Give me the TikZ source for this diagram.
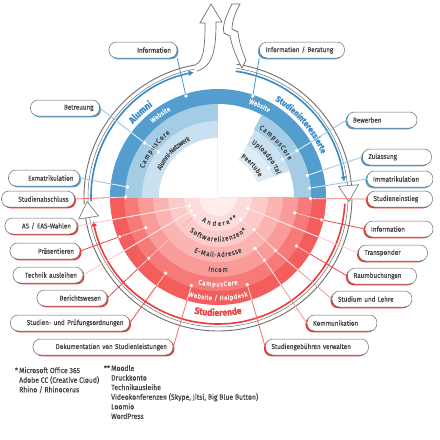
\documentclass[tikz,border=0pt]{standalone}
\usepackage{fontspec}
\setmainfont{Fira Sans}[FakeStretch=0.9, FakeBold=0.4]
\usetikzlibrary{arrows.meta,shadows,decorations.text}

\definecolor{bA}{RGB}{83,158,207}
\definecolor{bB}{RGB}{164,204,229}
\definecolor{bC}{RGB}{200,224,240}
\definecolor{bD}{RGB}{222,236,246}
\definecolor{bArc}{RGB}{52,138,200}
\definecolor{blueM}{RGB}{70,150,205}
\definecolor{blueL}{RGB}{150,196,226}
\definecolor{rA}{RGB}{243,93,92}
\definecolor{rB}{RGB}{246,122,120}
\definecolor{rC}{RGB}{249,155,153}
\definecolor{rD}{RGB}{250,180,178}
\definecolor{rE}{RGB}{252,202,200}
\definecolor{rF}{RGB}{253,221,220}
\definecolor{rG}{RGB}{254,237,236}
\definecolor{rArc}{RGB}{236,60,58}
\definecolor{redS}{RGB}{238,72,70}
\definecolor{redM}{RGB}{244,112,110}
\definecolor{redL}{RGB}{247,148,146}
\definecolor{redXL}{RGB}{251,196,194}
\definecolor{txt}{RGB}{65,65,65}
\definecolor{boxline}{RGB}{105,105,105}
\definecolor{ribbongrey}{RGB}{110,110,110}

\newcommand\boxfont{\fontsize{7}{8}\selectfont}
\newcommand\ringfont{\fontsize{6.8}{7}\selectfont}
\newcommand\groupfont{\fontsize{9.5}{11}\selectfont\bfseries}
\newcommand\notefont{\fontsize{7.6}{9.6}\selectfont}

% Verbindungen Kaestchen -> Dienste
\newcommand\connectors{%
  \draw[blueM, con] (infoL.south east) -- (dInfoL);
  \draw[blueL, con] (betreuung.east) -- (dBetr1) -- (dBetr2);
  \draw[blueL, con] (exmat.east) -- (dExmat);
  \draw[blueM, con] (infoR.south west) -- (dInfoR);
  \draw[blueL, con] (bewerben.west) -- (dBew1) -- (dBew2) -- (dBew3);
  \draw[blueL, con] (zulassung.west) -- (dZul);
  \draw[blueL, con] (immat.west) -- (dImmat);
  \draw[redM, con] (abschluss.east) -- (dAbs);
  \draw[redM, con] (einstieg.west) -- (dEin);
  \draw[redXL, con] (wahlen.east) -- (dWahl);
  \draw[redS, con] (praes.east) -- (dPraes1) -- (dPraes2);
  \draw[redXL, con] (technik.east) -- (dTech);
  \draw[redS, con] (bericht.east) -- (dBer1) -- (dBer2);
  \draw[redS, con] (ordnung.east) -- (dOrd);
  \draw[redM, con] (doku.east) -- (dDoku);
  \draw[redS, con] (infoRR.west) -- (dInfoRR1) -- (dInfoRR2);
  \draw[redXL, con] (transp.west) -- (dTrans);
  \draw[redS, con] (raum.west) -- (dRaum);
  \draw[redL, con] (lehre.west) -- (dLehre1) -- (dLehre2) -- (dLehre3);
  \draw[redL, con] (komm.west) -- (dKomm1) -- (dKomm2);
  \draw[redM, con] (gebuehr.west) -- (dGeb);
}

\begin{document}
\begin{tikzpicture}[x=1pt, y=1pt,
    box/.style={draw=boxline, line width=.5pt, fill=white, rounded corners=7.5pt,
      minimum height=16pt, inner xsep=6pt, inner ysep=0pt, font=\boxfont, text=txt},
    lbox/.style={box, text width=#1, align=right},
    rbox/.style={box, text width=#1, align=left},
    shr/.style={drop shadow={shadow xshift=1.5pt, shadow yshift=-1.3pt, fill=#1, opacity=1}},
    shl/.style={drop shadow={shadow xshift=-1.5pt, shadow yshift=-1.3pt, fill=#1, opacity=1}},
    dot/.style={circle, fill=white, inner sep=0pt, minimum size=3.8pt},
    con/.style={line width=.8pt},
    ringtext/.style 2 args={decorate, decoration={text along path, text align=center, text color=#1, text={#2}}},
    ringfit/.style 2 args={decorate, decoration={text effects along path, text={#2},
      text effects/.cd, text along path, fit text to path, characters={text=#1, font=\ringfont}}},
    ribbon/.style={draw=ribbongrey},
    note/.style={font=\notefont, text=txt, align=left, inner sep=0pt, anchor=north west},
  ]
\useasboundingbox (-218,-243) rectangle (222,197);

% Studierende (untere Haelfte)
\begin{scope}
  \clip (-110,0) rectangle (110,-110);
  \fill[rA] (0,0) circle (108);
  \fill[rB] (0,0) circle (94);
  \fill[rC] (0,0) circle (80);
  \fill[rD] (0,0) circle (65);
  \fill[rE] (0,0) circle (50);
  \fill[rF] (0,0) circle (34);
  \fill[rG] (0,0) circle (19);
\end{scope}

% Alumni
\begin{scope}
  \clip (-110,0) rectangle (0,110);
  \fill[bA] (0,0) circle (108);
  \fill[bB] (0,0) circle (93);
  \fill[bC] (0,0) circle (76);
  \fill[white] (0,0) circle (59);
\end{scope}

% Studieninteressierte
\fill[bA] (0,0) -- (0:108) arc[start angle=0, end angle=90, radius=108] -- cycle;
\fill[white] (0,0) -- (0:93) arc[start angle=0, end angle=90, radius=93] -- cycle;
\fill[bB] (0:76) -- (0:93) arc[start angle=0, end angle=62, radius=93] -- (62:76) arc[start angle=62, end angle=0, radius=76] -- cycle;
\fill[bC] (20:59) -- (20:76) arc[start angle=20, end angle=61, radius=76] -- (61:59) arc[start angle=61, end angle=20, radius=59] -- cycle;
\fill[bD] (20:42) -- (20:59) arc[start angle=20, end angle=61, radius=59] -- (61:42) arc[start angle=61, end angle=20, radius=42] -- cycle;

% Beschriftung der Ringe
\path[ringtext={white}{|\ringfont|Website}] (155:98.5) arc[start angle=155, end angle=95, radius=98.5];
\path[ringfit={txt}{CampusCore}] (159:79.5) arc[start angle=159, end angle=127, radius=79.5];
\path[ringfit={txt}{Alumni-Netzwerk}] (155:63) arc[start angle=155, end angle=116, radius=63];
\path[ringtext={white}{|\ringfont|Website}] (95:98.5) arc[start angle=95, end angle=36, radius=98.5];
\path[ringfit={txt}{CampusCore}] (59:79.5) arc[start angle=59, end angle=27.5, radius=79.5];
\path[ringfit={txt}{Uploadportal}] (58:63) arc[start angle=58, end angle=21, radius=63];
\path[ringfit={txt}{Peertube}] (60:45.5) arc[start angle=60, end angle=26, radius=45.5];
\path[ringfit={white}{Website / Helpdesk}] (253.2:103.5) arc[start angle=253.2, end angle=286.8, radius=103.5];
\path[ringfit={white}{CampusCore}] (257.1:89.5) arc[start angle=257.1, end angle=282.9, radius=89.5];
\path[ringfit={txt}{Incom}] (262.4:75) arc[start angle=262.4, end angle=277.6, radius=75];
\path[ringfit={txt}{E-Mail-Adresse}] (246.4:60) arc[start angle=246.4, end angle=293.6, radius=60];
\path[ringfit={txt}{Softwarelizenzen*}] (230.2:44.5) arc[start angle=230.2, end angle=309.8, radius=44.5];
\path[ringfit={txt}{Andere**}] (236:29) arc[start angle=236, end angle=312, radius=29];

\path[ringtext={bArc}{|\groupfont|Alumni}] (160:112) arc[start angle=160, end angle=105, radius=112];
\path[ringtext={bArc}{|\fontsize{8.5}{10}\selectfont\bfseries|Studieninteressierte}] (80:112) arc[start angle=80, end angle=2, radius=112];
\path[ringtext={rArc}{|\groupfont|Studierende}] (225:119) arc[start angle=225, end angle=315, radius=119];

% Kreislauf-Band
\draw[ribbon, line width=.5pt] (183:130) arc[start angle=183, end angle=100, radius=130];
\draw[ribbon, line width=.9pt] (183:134) arc[start angle=183, end angle=100, radius=134];
\draw[ribbon, line width=.5pt] (82:130) arc[start angle=82, end angle=4, radius=130];
\draw[ribbon, line width=.9pt] (82:134) arc[start angle=82, end angle=4, radius=134];
\draw[ribbon, line width=.5pt] (-1:130) arc[start angle=-1, end angle=-172, radius=130];
\draw[ribbon, line width=.9pt] (-1:134) arc[start angle=-1, end angle=-172, radius=134];
\draw[ribbon, line width=.6pt, fill=white] (5:121) -- (5:141) -- (-2:131) -- cycle;
\draw[ribbon, line width=.6pt, fill=white] (-171:121) -- (-171:141) -- (-178:131) -- cycle;
% Ausstieg nach oben
\draw[ribbon, line width=.7pt, fill=white] (100:134) .. controls (-14,135) and (-13,152) .. (-13,174)
  -- (-18,174) -- (-7,193) -- (4,175) -- (-2,175) .. controls (-2,150) and (-4,131) .. (-21,126);
% Einstieg von oben
\draw[ribbon, line width=.7pt, fill=white] (14,193) .. controls (8,181) and (4,171) .. (6,164)
  -- (12,161) .. controls (14,151) and (18,140) .. (24,129) -- (28,137)
  .. controls (24,146) and (21,155) .. (20,165) -- (14,168) .. controls (14,176) and (18,186) .. (22,193) -- cycle;

\draw[bArc, line width=1.6pt, -{Latex[length=5pt, width=6pt]}] (182:127) arc[start angle=182, end angle=101, radius=127];
\draw[bArc, line width=1.6pt, -{Latex[length=5pt, width=6pt]}] (82:127) arc[start angle=82, end angle=7, radius=127];
\draw[rArc, line width=1.6pt, -{Latex[length=5pt, width=6pt]}] (-3:127) arc[start angle=-3, end angle=-169, radius=127];

% Punkte auf den Ringen
\node[dot] (dInfoL) at (107.6:106) {};
\node[dot] (dBetr1) at (143.6:91) {};
\node[dot] (dBetr2) at (142.7:74.5) {};
\node[dot] (dExmat) at (173.7:91) {};
\node[dot] (dInfoR) at (71:106.5) {};
\node[dot] (dBew1) at (30.4:91.5) {};
\node[dot] (dBew2) at (30.2:75) {};
\node[dot] (dBew3) at (29.9:58.5) {};
\node[dot] (dZul) at (13.6:92) {};
\node[dot] (dImmat) at (5.5:92) {};
\node[dot] (dEin) at (-1:92.5) {};
\node[dot] (dAbs) at (180:92.5) {};
\node[dot] (dInfoRR1) at (-12.4:106) {};
\node[dot] (dInfoRR2) at (-11.7:78.5) {};
\node[dot] (dTrans) at (-21:32) {};
\node[dot] (dRaum) at (-32:92.5) {};
\node[dot] (dLehre1) at (-43:78.5) {};
\node[dot] (dLehre2) at (-42.3:48.5) {};
\node[dot] (dLehre3) at (-45:32) {};
\node[dot] (dKomm1) at (-53.7:78.5) {};
\node[dot] (dKomm2) at (-54.2:63.5) {};
\node[dot] (dGeb) at (-71.5:92.5) {};
\node[dot] (dDoku) at (-106.7:92.5) {};
\node[dot] (dOrd) at (-124.5:92.5) {};
\node[dot] (dBer1) at (-138.5:92.5) {};
\node[dot] (dBer2) at (-142:30) {};
\node[dot] (dTech) at (-152.5:30) {};
\node[dot] (dPraes1) at (-158:106) {};
\node[dot] (dPraes2) at (-157:78.5) {};
\node[dot] (dWahl) at (-163:30) {};

% Kaestchen links
\node[lbox=56, shr=bA] (infoL) at (-75,147) {Information};
\node[lbox=57, shr=bA] (betreuung) at (-153,89) {Betreuung};
\node[lbox=59, shr=bA] (exmat) at (-174,19) {Exmatrikulation};
\node[lbox=61, shr=rArc] (abschluss) at (-180,-2) {Studienabschluss};
\node[lbox=60, shr=rArc] (wahlen) at (-177,-29) {AS / EAS-Wahlen};
\node[lbox=58, shr=rArc] (praes) at (-173,-54) {Präsentieren};
\node[lbox=58, shr=rArc] (technik) at (-170,-78) {Technik ausleihen};
\node[lbox=58, shr=rArc] (bericht) at (-146,-101) {Berichtswesen};
\node[lbox=107, shr=rArc] (ordnung) at (-148,-126) {Studien- und Prüfungsordnungen};
\node[lbox=128, shr=rArc] (doku) at (-115,-150) {Dokumentation von Studienleistungen};
% Kaestchen rechts
\node[rbox=73, shl=bA] (infoR) at (84,147) {Information / Beratung};
\node[rbox=58, shl=bA] (bewerben) at (164,77) {Bewerben};
\node[rbox=57, shl=bA] (zulassung) at (179,40) {Zulassung};
\node[rbox=54, shl=bA] (immat) at (182,18) {Immatrikulation};
\node[rbox=53, shl=rArc] (einstieg) at (182,-2) {Studieneinstieg};
\node[rbox=56, shl=rArc] (infoRR) at (181,-32) {Information};
\node[rbox=57, shl=rArc] (transp) at (175,-56) {Transponder};
\node[rbox=57, shl=rArc] (raum) at (164,-79) {Raumbuchungen};
\node[rbox=68, shl=rArc] (lehre) at (154,-102) {Studium und Lehre};
\node[rbox=58, shl=rArc] (komm) at (124,-126) {Kommunikation};
\node[rbox=91, shl=rArc] (gebuehr) at (99,-150) {Studiengebühren verwalten};

\connectors
\begin{scope}
  \clip (0,0) circle (108);
  \tikzset{con/.append style={draw=white, opacity=.75}}
  \connectors
\end{scope}

% Fussnoten
\node[note] (noteA) at (-199,-170) {\leavevmode\llap{*\,}Microsoft Office 365\\Adobe CC (Creative Cloud)\\Rhino / Rhinocerus};
\node[note] (noteB) at (-107,-168) {\leavevmode\llap{**\,}Moodle\\Druckkonto\\Technikausleihe\\Videokonferenzen (Skype, Jitsi, Big Blue Button)\\Loomio\\WordPress};
\end{tikzpicture}
\end{document}
